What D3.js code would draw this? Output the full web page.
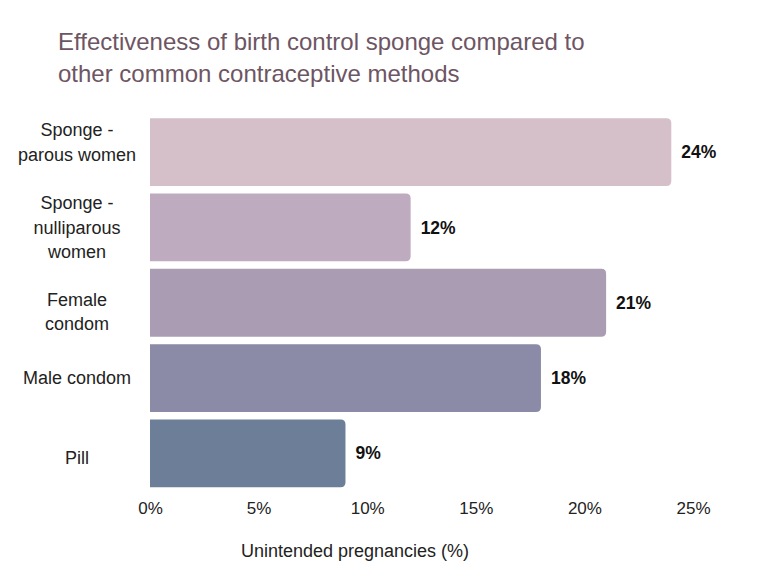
<!DOCTYPE html>
<html><head><meta charset="utf-8">
<script src="https://cdn.jsdelivr.net/npm/d3@7"></script>
<style>body{margin:0;background:#fff}svg{display:block}text{font-family:"Liberation Sans",Arial,sans-serif}</style>
</head><body>
<svg id="c" width="768" height="576"></svg>
<script>
const categories = [["Sponge -","parous women"],["Sponge -","nulliparous","women"],["Female","condom"],["Male condom"],["Pill"]];
const values = [24, 12, 21, 18, 9];
const colors = ["#d5bfc9","#bfabbf","#a99cb3","#8b8ba7","#6d7e99"];
const ticks = [0,5,10,15,20,25];
const title = ["Effectiveness of birth control sponge compared to","other common contraceptive methods"];
const xTitle = "Unintended pregnancies (%)";

const svg = d3.select("#c");
const x = d3.scaleLinear().domain([0,25]).range([150,693]);
const y = d3.scaleBand().domain(d3.range(values.length)).range([114.5,491]).paddingInner(0.1).paddingOuter(0.05);

svg.append("g").selectAll("text").data(title).join("text")
  .attr("x",58).attr("y",(d,i)=>50+i*32).attr("fill","#6e5563").attr("font-size",24).text(d=>d);

const r = 5;
svg.append("g").selectAll("path").data(values).join("path")
  .attr("fill",(d,i)=>colors[i])
  .attr("d",(d,i)=>{
    const x0=x(0), x1=x(d), y0=y(i), h=y.bandwidth();
    return `M${x0},${y0}H${x1-r}Q${x1},${y0} ${x1},${y0+r}V${y0+h-r}Q${x1},${y0+h} ${x1-r},${y0+h}H${x0}Z`;
  });

svg.append("g").selectAll("text").data(values).join("text")
  .attr("x",d=>x(d)+10).attr("y",(d,i)=>y(i)+y.bandwidth()/2).attr("dy","0.35em")
  .attr("font-size",17.5).attr("font-weight","bold").attr("fill","#111").text(d=>d+"%");

// small vertical nudges of the wrapped category labels, as in the original layout
const labelNudge = [-10, 0, 9, 0, 4];
const lab = svg.append("g").selectAll("text").data(categories).join("text")
  .attr("text-anchor","middle").attr("font-size",18).attr("fill","#222");
lab.each(function(lines,i){
  const cy = y(i)+y.bandwidth()/2 + labelNudge[i];
  const lh = 24.5;
  const start = cy - (lines.length-1)*lh/2;
  d3.select(this).selectAll("tspan").data(lines).join("tspan")
    .attr("x",77).attr("y",(d,j)=>start+j*lh).attr("dy","0.35em").text(d=>d);
});

const ax = d3.axisBottom(x).tickValues(ticks).tickFormat(d=>d+"%").tickSize(0).tickPadding(0);
const g = svg.append("g").attr("transform","translate(0,508)").call(ax);
g.select(".domain").remove();
g.selectAll("text").attr("font-size",17).attr("fill","#222").attr("dy","0.35em").attr("font-family","Liberation Sans, Arial, sans-serif");

svg.append("text").attr("x",355).attr("y",557).attr("text-anchor","middle").attr("font-size",18).attr("fill","#222").text(xTitle);
</script>
</body></html>
